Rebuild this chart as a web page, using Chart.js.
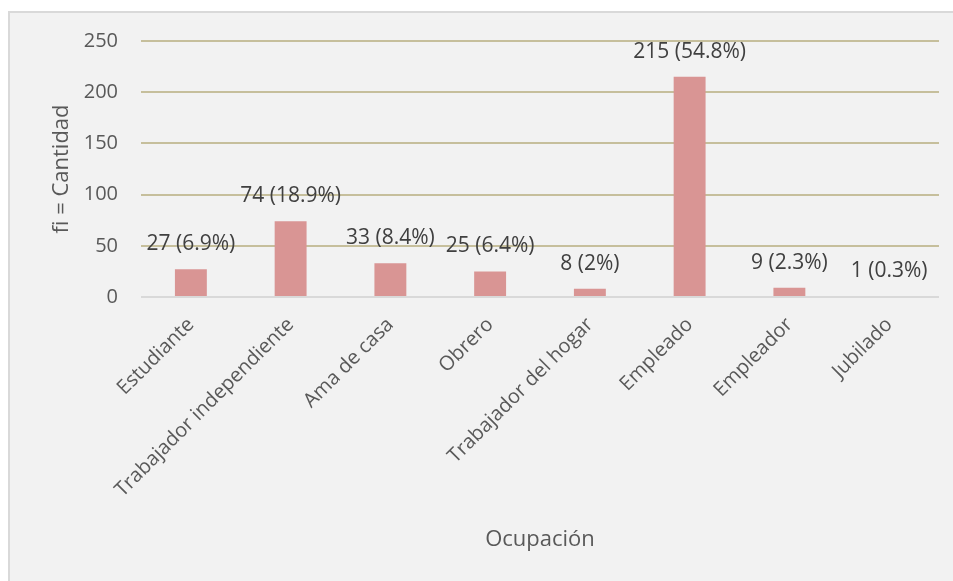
<!DOCTYPE html>
<html>
<head>
<meta charset="utf-8">
<script src="https://cdn.jsdelivr.net/npm/chart.js@4/dist/chart.umd.min.js"></script>
<style>
    html, body { margin: 0; padding: 0; background: #ffffff; }
    #box {
        position: absolute; left: 8px; top: 11px; width: 943px; height: 568px;
        background: #f2f2f2; border-left: 2px solid #d9d9d9; border-top: 2px solid #d9d9d9;
    }
    canvas { display: block; }
</style>
</head>
<body>
<div id="box"><canvas id="myChart" width="943" height="568"></canvas></div>
<script>
// chart data
const ocupaciones = ['Estudiante', 'Trabajador independiente', 'Ama de casa', 'Obrero', 'Trabajador del hogar', 'Empleado', 'Empleador', 'Jubilado'];
const cantidades = [27, 74, 33, 25, 8, 215, 9, 1];
const porcentajes = ['6.9%', '18.9%', '8.4%', '6.4%', '2%', '54.8%', '2.3%', '0.3%'];
const yTicks = [0, 50, 100, 150, 200, 250];

const FONT = '"Open Sans", sans-serif';

// draws "n (p%)" above each bar
const barLabels = {
    id: 'barLabels',
    afterDatasetsDraw(chart) {
        const ctx = chart.ctx;
        ctx.save();
        ctx.font = '21px ' + FONT;
        ctx.fillStyle = '#404040';
        ctx.textAlign = 'center';
        ctx.textBaseline = 'middle';
        chart.getDatasetMeta(0).data.forEach((bar, i) => {
            ctx.fillText(`${cantidades[i]} (${porcentajes[i]})`, bar.x, bar.y - 25);
        });
        ctx.restore();
    }
};

const ctx = document.getElementById('myChart').getContext('2d');

const myChart = new Chart(ctx, {
    type: 'bar',
    data: {
        labels: ocupaciones,
        datasets: [{
            label: 'fi',
            data: cantidades,
            backgroundColor: '#d99594',
            barPercentage: 0.32,
            categoryPercentage: 1,
        }]
    },
    options: {
        responsive: false,
        animation: false,
        layout: {
            padding: { left: 30, top: 28, right: 14, bottom: 0 }
        },
        plugins: {
            legend: { display: false },
            tooltip: { enabled: false },
        },
        scales: {
            y: {
                min: 0,
                max: 250,
                afterBuildTicks: (scale) => { scale.ticks = yTicks.map(v => ({ value: v })); },
                afterFit: (scale) => {
                    scale.width = 101;
                    // keep the plot top at the layout padding
                    scale.paddingTop = 0;
                    scale.paddingBottom = 0;
                },
                ticks: {
                    padding: 23,
                    color: '#595959',
                    font: { family: FONT, size: 20 },
                },
                grid: {
                    drawTicks: false,
                    lineWidth: 2,
                    color: (c) => c.tick && c.tick.value === 0 ? '#d9d9d9' : '#c6bf9c',
                },
                border: { display: false },
                title: {
                    display: true,
                    text: 'fi = Cantidad',
                    color: '#595959',
                    font: { family: FONT, size: 22 },
                    padding: { top: 9, bottom: 0 },
                }
            },
            x: {
                afterFit: (scale) => { scale.height = 284; },
                ticks: {
                    minRotation: 45,
                    maxRotation: 45,
                    autoSkip: false,
                    padding: 16,
                    color: '#595959',
                    font: { family: FONT, size: 20 },
                },
                grid: { display: false, drawTicks: false },
                border: { display: false },
                title: {
                    display: true,
                    text: 'Ocupación',
                    color: '#595959',
                    font: { family: FONT, size: 22 },
                    padding: { top: 0, bottom: 28 },
                }
            }
        }
    },
    plugins: [barLabels]
});
</script>
</body>
</html>
